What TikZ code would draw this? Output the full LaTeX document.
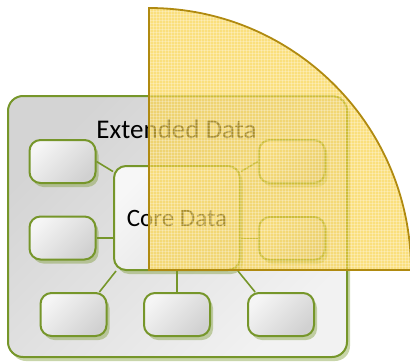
\documentclass[tikz,border=0pt]{standalone}
\usepackage{fontspec}
\setmainfont{Carlito}
\usetikzlibrary{shadows,patterns,calc}

\definecolor{leaf}{HTML}{76962A}
\definecolor{gold}{HTML}{B08A10}
\definecolor{sun}{HTML}{F8D040}

\begin{document}
\begin{tikzpicture}[x=1pt,y=-1pt,
  greenshadow/.style={drop shadow={shadow xshift=3pt,shadow yshift=-4pt,fill=leaf,opacity=0.4}},
  outerpane/.style={draw=leaf, line width=2pt, rounded corners=15pt,
    top color=black!17, bottom color=black!5, shading angle=45,
    minimum width=339pt, minimum height=261pt, greenshadow},
  corebox/.style={draw=leaf, line width=2pt, rounded corners=12pt,
    top color=black!3, bottom color=black!11, shading angle=45,
    minimum width=126pt, minimum height=104pt, greenshadow,
    font=\fontsize{25}{29}\selectfont},
  itembox/.style={draw=leaf, line width=2pt, rounded corners=11pt,
    top color=black!4, bottom color=black!18, shading angle=45,
    minimum width=66pt, minimum height=43pt, greenshadow},
  link/.style={draw=leaf, line width=1.6pt},
  title/.style={font=\fontsize{27}{31}\selectfont}]

\useasboundingbox (0,0) rectangle (410,362);

% outer container and its heading
\node[outerpane] (ext) at (177.5,226.5) {};
\node[title] (exttitle) at (176.5,129) {Extended Data};

% surrounding items
\coordinate (corec) at (177,218);
\node[itembox] (lt) at (62.5,161.5) {};
\node[itembox] (lm) at (62.5,238) {};
\node[itembox] (rt) at (292,161.5) {};
\node[itembox] (rm) at (292,238.5) {};
\node[itembox] (b1) at (73.5,314.5) {};
\node[itembox] (b2) at (177,314.5) {};
\node[itembox] (b3) at (281,314.5) {};

% inner core
\node[corebox] (core) at (corec) {Core Data};

% connectors between items and the core
\draw[link] (lt.east) -- (core.144);
\draw[link] (lm.east) -- (lm.east -| core.west);
\draw[link] (core.36) -- (rt.west);
\draw[link] (rm.west) -- (rm.west -| core.east);
\draw[link] (core.221) -- (b1.41);
\draw[link] (core.south) -- (b2.north);
\draw[link] (core.-41) -- (b3.139);

% translucent quarter disc on top
\fill[sun, opacity=0.68] (149,270) -- (149,8) arc[start angle=-90, end angle=0, radius=262] -- cycle;
\fill[pattern=grid, pattern color=white, opacity=0.25] (149,270) -- (149,8) arc[start angle=-90, end angle=0, radius=262] -- cycle;
\draw[gold, line width=1.8pt] (149,270) -- (149,8) arc[start angle=-90, end angle=0, radius=262] -- cycle;
\end{tikzpicture}
\end{document}
